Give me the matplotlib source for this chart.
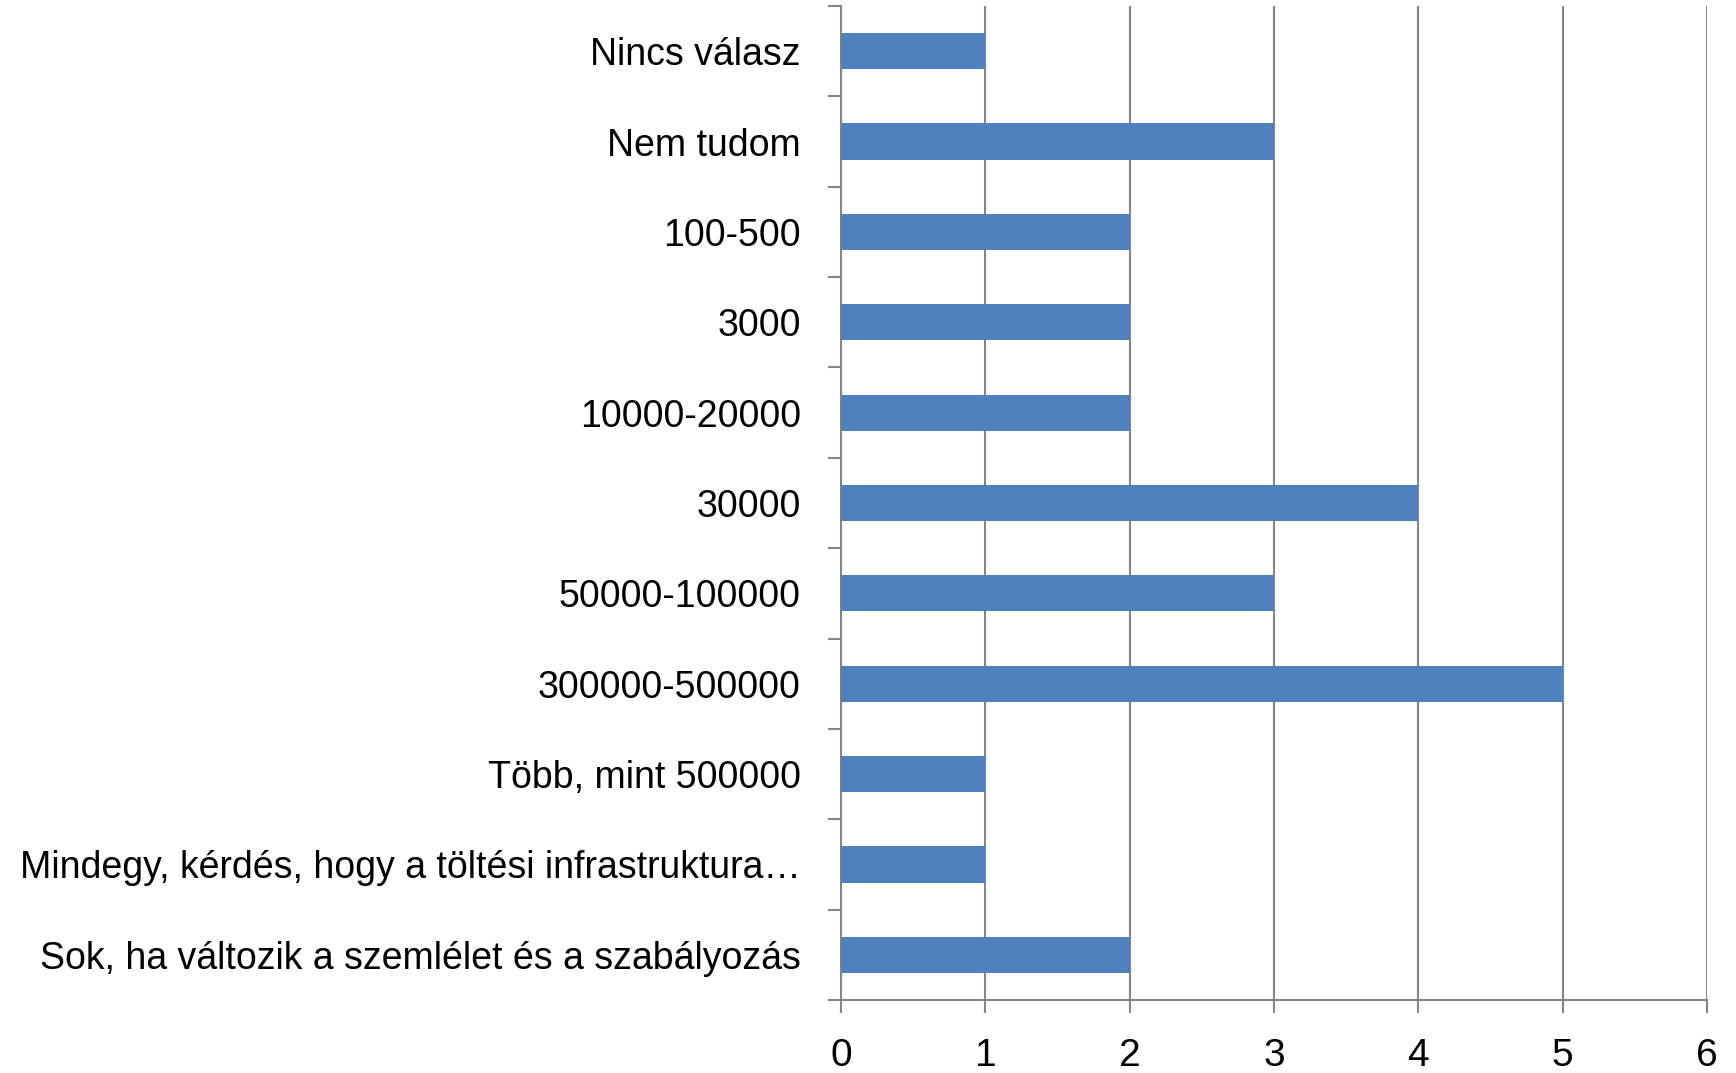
import matplotlib.pyplot as plt

# categories from top to bottom, as in the chart
labels = ["Nincs válasz", "Nem tudom", "100-500", "3000", "10000-20000", "30000",
          "50000-100000", "300000-500000", "Több, mint 500000",
          "Mindegy, kérdés, hogy a töltési infrastruktura…",
          "Sok, ha változik a szemlélet és a szabályozás"]
counts = [1, 3, 2, 2, 2, 4, 3, 5, 1, 1, 2]
x_ticks = [0, 1, 2, 3, 4, 5, 6]

plt.rcParams['font.family'] = ['Liberation Sans Narrow', 'Liberation Sans', 'DejaVu Sans']

fig = plt.figure(figsize=(17.36, 10.73), dpi=100)
ax = fig.add_axes([0.4845, 0.068, 0.4988, 0.9264])

n = len(labels)
pos = list(range(n - 1, -1, -1))
ax.barh(pos, counts, height=0.4, color="#4F81BD", zorder=3)

ax.set_xlim(0, 6)
ax.set_ylim(-0.5, n - 0.5)
ax.set_xticks(x_ticks)
ax.set_xticklabels([str(t) for t in x_ticks], fontsize=28)
ax.grid(axis="x", color="#868686", linewidth=1.5, zorder=0)

# category ticks sit on the boundaries, labels at the centres
ax.set_yticks([p - 0.5 for p in range(n + 1)])
ax.set_yticklabels([])
ax.set_yticks(pos, minor=True)
ax.set_yticklabels(labels, minor=True, fontsize=27)
ax.tick_params(axis="y", which="major", length=9.5, width=1.5, color="#868686")
ax.tick_params(axis="y", which="minor", length=0, pad=29)
ax.tick_params(axis="x", length=9.5, width=1.5, color="#868686", pad=18)

for s in ["top", "right"]:
    ax.spines[s].set_visible(False)
for s in ["left", "bottom"]:
    ax.spines[s].set_color("#868686")
    ax.spines[s].set_linewidth(1.5)

fig.savefig("out.png", dpi=100)
